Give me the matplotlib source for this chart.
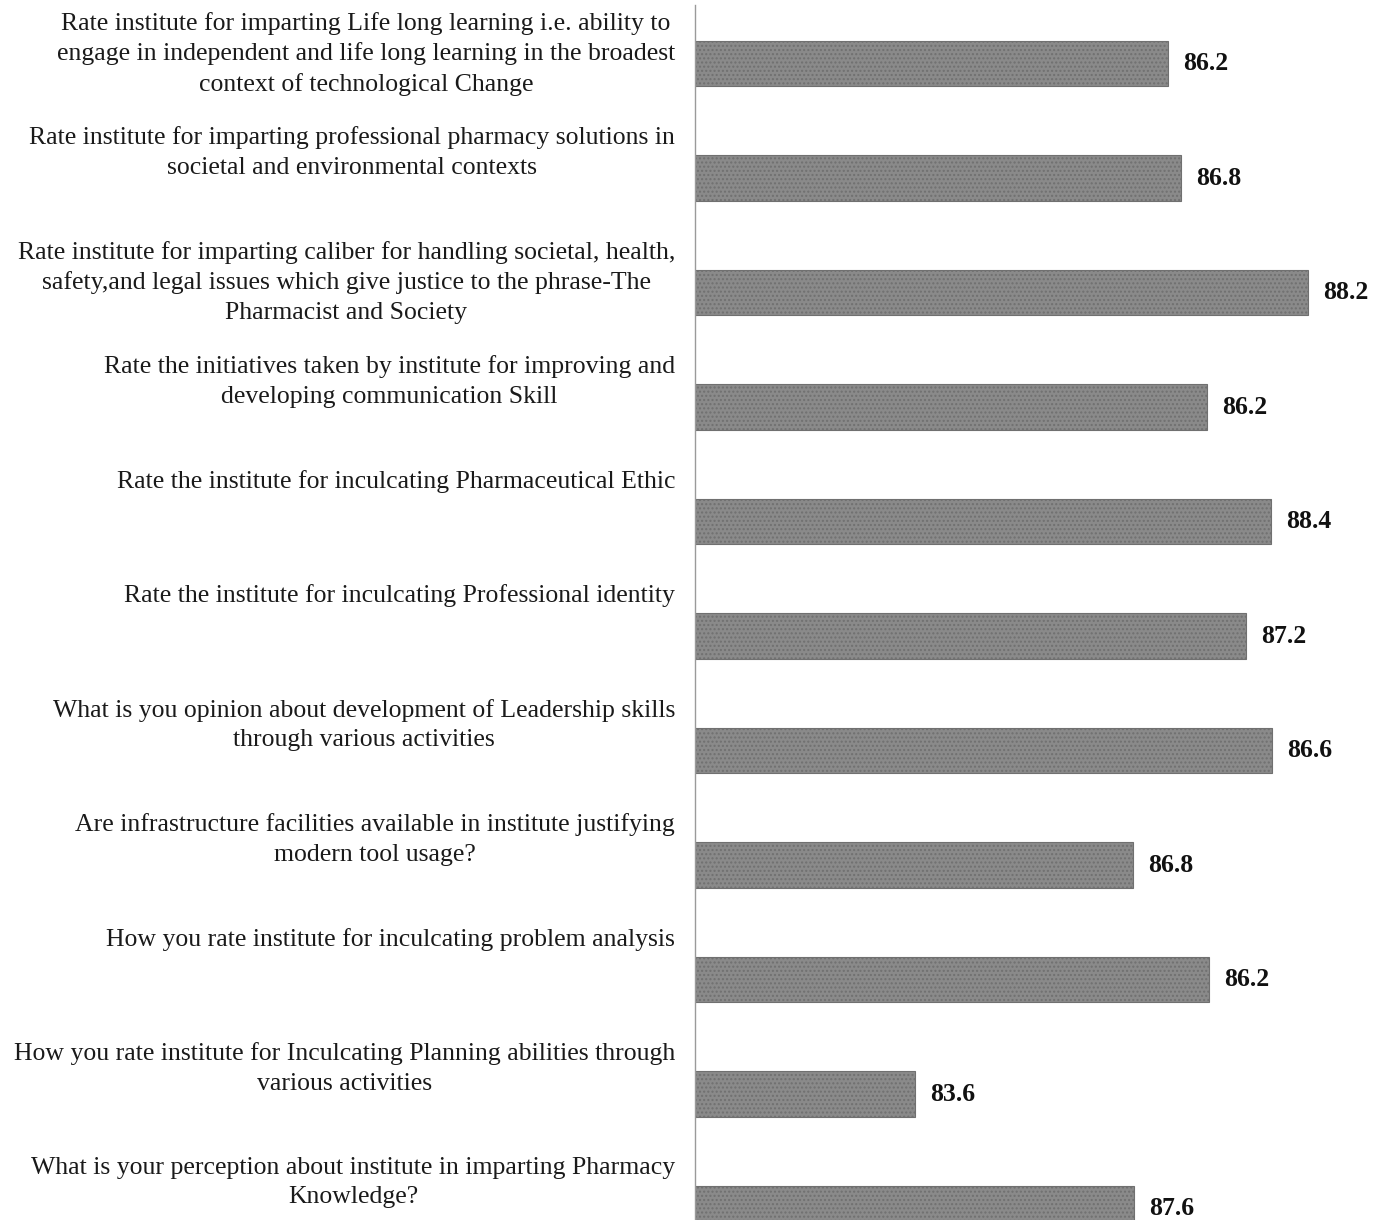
import matplotlib.pyplot as plt
import numpy as np

plt.rcParams['font.family'] = ['Liberation Serif', 'DejaVu Serif']
plt.rcParams['hatch.color'] = '#a8a8a8'

questions = [
    "Rate institute for imparting Life long learning i.e. ability to\n"
    "engage in independent and life long learning in the broadest\n"
    "context of technological Change",
    "Rate institute for imparting professional pharmacy solutions in\n"
    "societal and environmental contexts",
    "Rate institute for imparting caliber for handling societal, health,\n"
    "safety,and legal issues which give justice to the phrase-The\n"
    "Pharmacist and Society",
    "Rate the initiatives taken by institute for improving and\n"
    "developing communication Skill",
    "Rate the institute for inculcating Pharmaceutical Ethic",
    "Rate the institute for inculcating Professional identity",
    "What is you opinion about development of Leadership skills\n"
    "through various activities",
    "Are infrastructure facilities available in institute justifying\n"
    "modern tool usage?",
    "How you rate institute for inculcating problem analysis",
    "How you rate institute for Inculcating Planning abilities through\n"
    "various activities",
    "What is your perception about institute in imparting Pharmacy\n"
    "Knowledge?",
]
scores = [86.2, 86.8, 88.2, 86.2, 88.4, 87.2, 86.6, 86.8, 86.2, 83.6, 87.6]
# bar lengths as drawn in the original (they do not follow the printed scores)
bar_len = [47.3, 48.6, 61.3, 51.2, 57.6, 55.1, 57.7, 43.8, 51.4, 22.0, 43.9]

fig = plt.figure(figsize=(13.84, 12.2), dpi=100)
ax = fig.add_axes([695 / 1384, 0, 689 / 1384, 1 - 5 / 1220])

y = np.arange(len(questions))
ax.barh(y, bar_len, height=0.40, color='#8a8a8a', edgecolor='#707070',
        linewidth=0.8, hatch='....')

for i in range(len(questions)):
    ax.text(-2.0, i - 0.45, questions[i], ha='right', va='top',
            multialignment='center', fontsize=18.5, linespacing=1.42,
            color='#1a1a1a')
    ax.text(bar_len[i] + 1.5, i, f"{scores[i]:.1f}", ha='left', va='center',
            fontsize=18.5, fontweight='bold', color='#111111')

ax.set_xlim(0, 68.9)
ax.set_ylim((1220 - 63.5) / 114.5, -58.5 / 114.5)
for s in ['top', 'right', 'bottom']:
    ax.spines[s].set_visible(False)
ax.spines['left'].set_color('#9a9a9a')
ax.spines['left'].set_linewidth(1.0)
ax.set_xticks([])
ax.set_yticks([])

fig.savefig('out.png', dpi=100)
